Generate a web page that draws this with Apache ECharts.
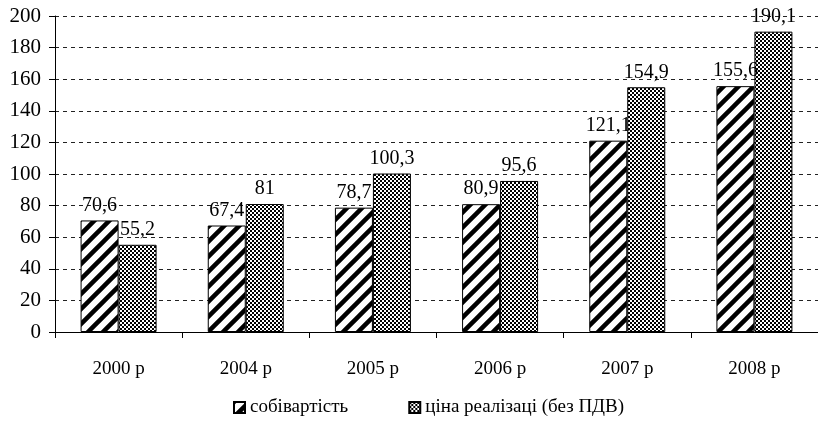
<!DOCTYPE html>
<html><head><meta charset="utf-8">
<script src="https://cdn.jsdelivr.net/npm/echarts@6/dist/echarts.min.js"></script>
<style>html,body{margin:0;padding:0;background:#fff}#c{width:818px;height:426px}</style>
</head><body><div id="c"></div>
<script>
const categories = ['2000 р', '2004 р', '2005 р', '2006 р', '2007 р', '2008 р'];
const costValues = [70.6, 67.4, 78.7, 80.9, 121.1, 155.6];
const priceValues = [55.2, 81, 100.3, 95.6, 154.9, 190.1];
const seriesNames = ['собівартість', 'ціна реалізаці (без ПДВ)'];
const yTicks = {min: 0, max: 200, interval: 20};

function hatchPattern() {
  const c = document.createElement('canvas');
  c.width = c.height = 15;
  const g = c.getContext('2d');
  g.fillStyle = '#fff'; g.fillRect(0, 0, 15, 15);
  g.strokeStyle = '#000'; g.lineWidth = 4.5;
  g.beginPath();
  g.moveTo(-2, 17); g.lineTo(17, -2);
  g.moveTo(-4, 4); g.lineTo(4, -4);
  g.moveTo(11, 19); g.lineTo(19, 11);
  g.stroke();
  return c;
}
function checkerPattern() {
  const c = document.createElement('canvas');
  c.width = c.height = 4;
  const g = c.getContext('2d');
  g.fillStyle = '#fff'; g.fillRect(0, 0, 4, 4);
  g.fillStyle = '#000'; g.fillRect(0, 0, 2, 2); g.fillRect(2, 2, 2, 2);
  return c;
}
const font = '"Liberation Serif", "Times New Roman", serif';
const chart = echarts.init(document.getElementById('c'), null, {renderer: 'canvas'});
const labelCfg = {show: true, position: 'top', distance: 5, color: '#000', fontFamily: font, fontSize: 20,
  formatter: p => String(p.value).replace('.', ',')};
chart.setOption({
  animation: false,
  textStyle: {fontFamily: font, color: '#000'},
  grid: {left: 55, right: 0, top: 16, height: 316},
  legend: {
    left: 228, top: 393, itemWidth: 11, itemHeight: 11, itemGap: 60,
    textStyle: {fontFamily: font, fontSize: 19, color: '#000'},
    data: seriesNames.map(n => ({name: n, icon: 'rect'}))
  },
  xAxis: {
    type: 'category', data: categories,
    axisLine: {lineStyle: {color: '#000', width: 1}},
    axisTick: {show: true, length: 6, lineStyle: {color: '#000'}},
    axisLabel: {color: '#000', fontFamily: font, fontSize: 19, margin: 28}
  },
  yAxis: {
    type: 'value', min: yTicks.min, max: yTicks.max, interval: yTicks.interval,
    axisLine: {show: true, lineStyle: {color: '#000', width: 1}},
    axisTick: {show: true, length: 6, lineStyle: {color: '#000'}},
    axisLabel: {color: '#000', fontFamily: font, fontSize: 21, margin: 14},
    splitLine: {show: true, lineStyle: {color: '#222', type: [4, 4], width: 1}}
  },
  series: [
    {name: seriesNames[0], type: 'bar', data: costValues, barWidth: 38, barGap: '0%',
     itemStyle: {color: {image: hatchPattern(), repeat: 'repeat'}, borderColor: '#000', borderWidth: 1},
     label: labelCfg},
    {name: seriesNames[1], type: 'bar', data: priceValues, barWidth: 38, barGap: '0%',
     itemStyle: {color: {image: checkerPattern(), repeat: 'repeat'}, borderColor: '#000', borderWidth: 1},
     label: labelCfg}
  ]
});
</script></body></html>
